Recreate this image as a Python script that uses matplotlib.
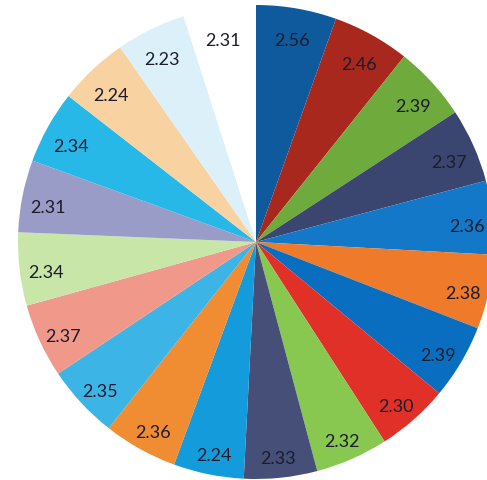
import matplotlib.pyplot as plt

# slice values, clockwise from 12 o'clock
values = [2.56, 2.46, 2.39, 2.37, 2.36, 2.38, 2.39, 2.30, 2.32, 2.33,
          2.24, 2.36, 2.35, 2.37, 2.34, 2.31, 2.34, 2.24, 2.23, 2.31]
labels = ["%.2f" % v for v in values]
colors = ["#0F5A9C", "#A8281E", "#6EAA3C", "#3A4670", "#1478C8",
          "#EE7A2A", "#0A6EC0", "#E03028", "#88C850", "#454F78",
          "#149BDC", "#F08C32", "#3CB4E6", "#F0988A", "#C8E6A8",
          "#9A9CC8", "#28B8E8", "#F8D2A0", "#DCF0FA", "#FFFFFF"]

fig = plt.figure(figsize=(4.87, 4.80), dpi=100)
ax = fig.add_axes([18 / 487, 1 / 480, 476 / 487, 474 / 480])

wedges, texts = ax.pie(values, labels=labels, colors=colors, startangle=90,
                       counterclock=False, radius=1, labeldistance=0.89,
                       wedgeprops={"linewidth": 0},
                       textprops={"fontsize": 13, "family": "Lato",
                                  "color": "#1C1C2C"})
# nudge labels a little lower, as in the printed chart
for t in texts:
    t.set_ha("center")
    t.set_va("center")
    x, y = t.get_position()
    t.set_position((x, y - 0.03))

ax.set_xlim(-1, 1)
ax.set_ylim(-1, 1)
ax.set_aspect("auto")
ax.axis("off")

fig.savefig("out.png", dpi=100)
